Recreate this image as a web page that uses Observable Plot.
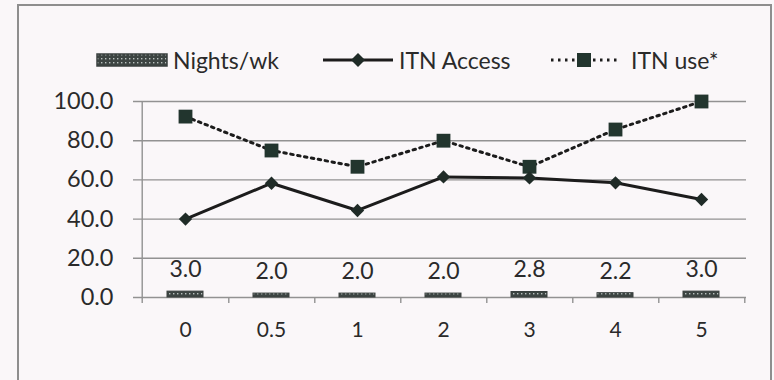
<!DOCTYPE html>
<html>
<head>
<meta charset="utf-8">
<script src="https://cdn.jsdelivr.net/npm/d3@7"></script>
<script src="https://cdn.jsdelivr.net/npm/@observablehq/plot@0.6"></script>
<style>
  html, body { margin: 0; padding: 0; background: #faf7f9; overflow: hidden; }
  #wrap { position: relative; width: 774px; height: 380px; font-family: Lato, "Open Sans", sans-serif; color: #2a2a2a; }
  #frame { position: absolute; left: 17px; top: 4px; width: 755px; height: 420px; border: 2px solid #8e8e8e; box-sizing: border-box; pointer-events: none; }
  #legend { position: relative; width: 774px; height: 84px; }
  .sw { position: absolute; }
  .lt { position: absolute; top: 46px; font-size: 23px; line-height: 28px; white-space: nowrap; }
  #chart svg { display: block; }
</style>
</head>
<body>
<div id="wrap">
  <div id="legend">
    <svg class="sw" style="left:96px;top:53px" width="72" height="14">
      <defs>
        <pattern id="legdots" width="4" height="4" patternUnits="userSpaceOnUse">
          <rect width="4" height="4" fill="#3c4442"/>
          <rect x="1" y="1" width="1.4" height="1.4" fill="#b9c0be"/>
        </pattern>
      </defs>
      <rect x="1" y="1" width="70" height="12" fill="url(#legdots)" stroke="#3a403f" stroke-width="1.5"/>
    </svg>
    <span class="lt" style="left:173px">Nights/wk</span>
    <svg class="sw" style="left:320px;top:50px" width="76" height="20">
      <line x1="3" y1="10" x2="73" y2="10" stroke="#1c1c1c" stroke-width="3"/>
      <path d="M38,3 L45,10 L38,17 L31,10 Z" fill="#1f2b27"/>
    </svg>
    <span class="lt" style="left:399px">ITN Access</span>
    <svg class="sw" style="left:546px;top:50px" width="76" height="20">
      <line x1="5" y1="10" x2="72" y2="10" stroke="#1c1c1c" stroke-width="3" stroke-dasharray="2.5,4.5"/>
      <rect x="31" y="3" width="14" height="14" fill="#22352e"/>
    </svg>
    <span class="lt" style="left:631px">ITN use*</span>
  </div>
  <div id="chart"></div>
  <div id="frame"></div>
</div>
<script>
// Nights per week categories and the three series
const categories = ["0", "0.5", "1", "2", "3", "4", "5"];
const nightsPerWeek = [3.0, 2.0, 2.0, 2.0, 2.8, 2.2, 3.0];
const itnAccess = [40.0, 58.3, 44.4, 61.5, 61.0, 58.5, 50.0];
const itnUse = [92.3, 75.0, 66.7, 80.0, 66.7, 85.7, 100.0];
const yTicks = [0, 20, 40, 60, 80, 100];

const rows = categories.map((cat, i) => ({
  cat,
  nights: nightsPerWeek[i],
  access: itnAccess[i],
  use: itnUse[i]
}));

const W = 774, H = 296, ML = 140, MR = 28, MT = 17, MB = 83;
const bw = (W - ML - MR) / categories.length;
const grid = "#929292";

const chart = Plot.plot({
  width: W,
  height: H,
  marginLeft: ML,
  marginRight: MR,
  marginTop: MT,
  marginBottom: MB,
  style: { background: "transparent", fontFamily: "Lato, 'Open Sans', sans-serif", color: "#2a2a2a", overflow: "visible" },
  x: { type: "band", domain: categories, padding: 0, axis: null },
  y: { domain: [0, 100], axis: null },
  marks: [
    // horizontal gridlines with short tick stubs on the left
    Plot.ruleY(yTicks, { y: d => d, stroke: grid, strokeWidth: 1.4, insetLeft: -7 }),
    // value axis line
    Plot.ruleX([categories[0]], { x: d => d, dx: -bw / 2, stroke: grid, strokeWidth: 1.4, insetBottom: -6 }),
    // category boundary ticks
    Plot.ruleX(categories, { x: d => d, dx: bw / 2, y1: 0, y2: 0, insetBottom: -6, stroke: grid, strokeWidth: 1.4 }),
    // y tick labels
    Plot.text(yTicks, { y: d => d, frameAnchor: "left", dx: -27, textAnchor: "end", text: d => d.toFixed(1), fontSize: 23.5, fill: "#2a2a2a" }),
    // x tick labels
    Plot.text(categories, { x: d => d, frameAnchor: "bottom", dy: 39, text: d => d, fontSize: 21, fill: "#2a2a2a" }),
    // Nights/wk bars and their value labels
    Plot.barY(rows, { x: "cat", y: "nights", fill: "url(#bardots)", stroke: "#3a403f", strokeWidth: 1, insetLeft: 25, insetRight: 25 }),
    Plot.text(rows, { x: "cat", y: "nights", text: d => d.nights.toFixed(1), dy: -22, fontSize: 23, fill: "#2a2a2a" }),
    // ITN use (dotted, squares)
    Plot.line(rows, { x: "cat", y: "use", stroke: "#1c1c1c", strokeWidth: 3, strokeDasharray: "2.5,4.5" }),
    Plot.dot(rows, { x: "cat", y: "use", symbol: "square", r: 7.8, fill: "#22352e", stroke: "none" }),
    // ITN Access (solid, diamonds)
    Plot.line(rows, { x: "cat", y: "access", stroke: "#1c1c1c", strokeWidth: 3 }),
    Plot.dot(rows, { x: "cat", y: "access", symbol: "diamond2", r: 6, fill: "#1f2b27", stroke: "none" })
  ]
});

// dotted fill used by the bars
const ns = "http://www.w3.org/2000/svg";
const defs = document.createElementNS(ns, "defs");
defs.innerHTML = '<pattern id="bardots" width="4" height="4" patternUnits="userSpaceOnUse">' +
  '<rect width="4" height="4" fill="#3c4442"/><rect x="1" y="1" width="1.4" height="1.4" fill="#b9c0be"/></pattern>';
chart.insertBefore(defs, chart.firstChild);

document.getElementById("chart").appendChild(chart);
</script>
</body>
</html>
